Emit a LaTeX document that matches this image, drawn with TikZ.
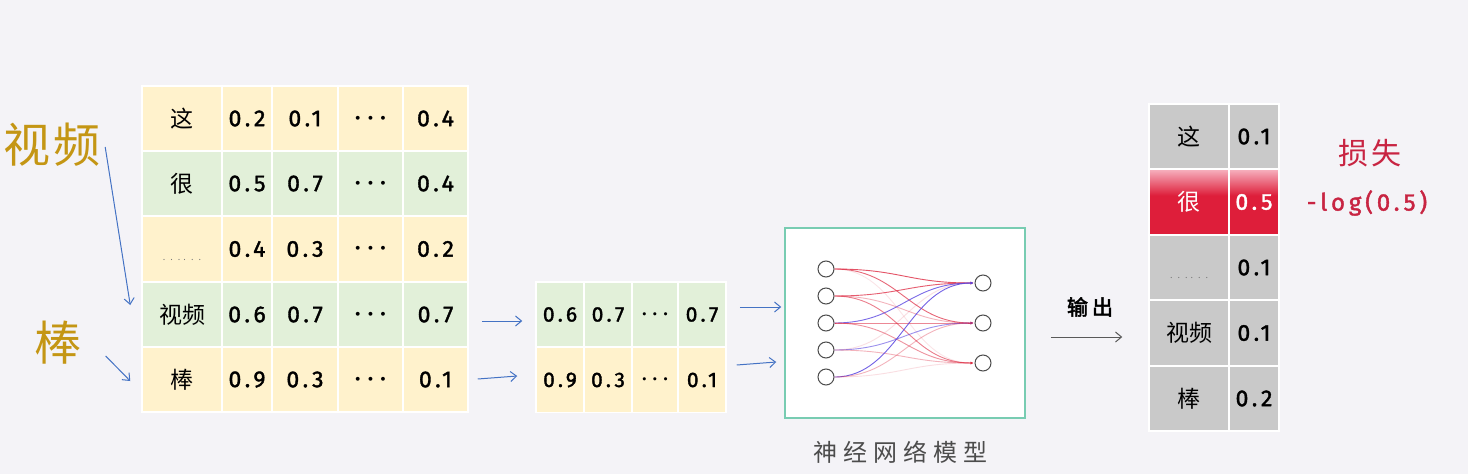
\documentclass[tikz,border=0pt]{standalone}
\usepackage{fontspec}
\usepackage{tikz}
\usetikzlibrary{arrows.meta,positioning}

\newfontfamily\cjk{Noto Sans CJK SC}
\newfontfamily\cjkbold[FakeBold=2.5]{Noto Sans CJK SC}
\newfontfamily\numfont[LetterSpace=16,FakeBold=1.6]{Fira Sans}

\definecolor{bgcol}{RGB}{244,243,247}
\definecolor{cellY}{RGB}{255,242,204}
\definecolor{cellG}{RGB}{226,240,217}
\definecolor{cellgray}{RGB}{201,201,201}
\definecolor{gold}{RGB}{196,150,20}
\definecolor{arrblue}{RGB}{68,114,196}
\definecolor{lossred}{RGB}{200,36,66}
\definecolor{nnframe}{RGB}{120,204,178}
\definecolor{nnred}{RGB}{222,40,64}
\definecolor{nnblue}{RGB}{90,70,225}
\definecolor{hotdeep}{RGB}{222,30,58}
\definecolor{hotpink}{RGB}{246,176,190}

\pgfdeclareverticalshading{hotshade}{100bp}{color(0bp)=(hotdeep); color(25bp)=(hotdeep); color(55bp)=(hotdeep); color(75bp)=(hotpink); color(100bp)=(hotpink)}

\newcommand{\dotrow}{\raisebox{-11pt}[0pt][0pt]{\color{black!55}\fontsize{9}{9}\selectfont .\hspace{5pt}.\hspace{5pt}.\hspace{3pt}.\hspace{5pt}.\hspace{5pt}.}}
\newcommand{\hdots}{{\boldmath$\cdots$}}

\tikzset{
	cell/.style={draw=white, line width=1.5pt, inner sep=0pt, minimum height=65pt},
	wordcell/.style={cell, minimum width=80pt, font=\cjk\fontsize{23}{23}\selectfont},
	numcell/.style={cell, font=\numfont\fontsize{23}{23}\selectfont},
	hot/.style={shading=hotshade, text=white},
	arr/.style={arrblue, line width=1pt, -{Straight Barb[length=6pt,width=10pt]}},
	neuron/.style={circle, draw=black!70, line width=1pt, minimum size=16pt, inner sep=0pt},
	link/.style={line width=0.9pt, -{Latex[length=3pt,width=3pt]}}
}

\begin{document}
\begin{tikzpicture}[x=1pt,y=-1pt]
	\useasboundingbox (0,0) rectangle (1468,474);
	\fill [bgcol] (0,0) rectangle (1468,474);

	\node [gold, inner sep=0pt, font=\cjk\fontsize{47}{47}\selectfont] (sp) at (52,145) {视\hspace{4pt}频};
	\node [gold, inner sep=0pt, font=\cjk\fontsize{47}{47}\selectfont] (bang) at (58,343) {棒};

	\foreach \y/\f/\w/\a/\b/\d [count=\r] in {118.5/cellY/这/0.2/0.1/0.4, 183.5/cellG/很/0.5/0.7/0.4, 249/cellY/\dotrow/0.4/0.3/0.2, 314.5/cellG/视频/0.6/0.7/0.7, 379.5/cellY/棒/0.9/0.3/0.1}{
		\node [wordcell, fill=\f] (w\r) at (182,\y) {\w};
		\node [numcell, fill=\f, minimum width=50pt] (w\r-a) at (247,\y) {\a};
		\node [numcell, fill=\f, minimum width=66pt] (w\r-b) at (305,\y) {\b};
		\node [numcell, fill=\f, minimum width=65pt] (w\r-c) at (370.5,\y) {\hdots};
		\node [numcell, fill=\f, minimum width=65pt] (w\r-d) at (435.5,\y) {\d};
	}

	\foreach \y/\f/\a/\b/\d [count=\r] in {314.5/cellG/0.6/0.7/0.7, 380/cellY/0.9/0.3/0.1}{
		\node [numcell, fill=\f, minimum width=48pt, font=\numfont\fontsize{21}{21}\selectfont] (m\r-a) at (560,\y) {\a};
		\node [numcell, fill=\f, minimum width=48pt, font=\numfont\fontsize{21}{21}\selectfont] (m\r-b) at (608,\y) {\b};
		\node [numcell, fill=\f, minimum width=46pt, font=\numfont\fontsize{21}{21}\selectfont] (m\r-c) at (655,\y) {\hdots};
		\node [numcell, fill=\f, minimum width=48pt, font=\numfont\fontsize{21}{21}\selectfont] (m\r-d) at (702,\y) {\d};
	}

	\draw [arr] ([shift={(4,2)}]sp.east) -- ([shift={(-11,-9.5)}]w4.west);
	\draw [arr] ([shift={(24,13)}]bang.east) -- ([shift={(-11,1.5)}]w5.west);
	\draw [arr] ([shift={(13,6.5)}]w4-d.east) -- ([shift={(-13,6.5)}]m1-a.west);
	\draw [arr] ([shift={(9,-0.5)}]w5-d.east) -- ([shift={(-18,-4)}]m2-a.west);

	\node [draw=nnframe, line width=1.5pt, fill=white, minimum width=240pt, minimum height=190pt] (nn) at (905,323) {};
	\foreach \y [count=\i] in {269,296,323,350,377}
		\node [neuron] (i\i) at (826,\y) {};
	\foreach \y [count=\o] in {283,323,363}
		\node [neuron] (o\o) at (983,\y) {};
	\foreach \a/\b/\c/\p in {1/1/nnred/0.8, 1/2/nnred/0.7, 1/3/nnred/0.12, 2/1/nnred/0.75, 2/2/nnred/0.35, 2/3/nnred/0.6, 3/1/nnblue/0.8, 3/2/nnred/0.85, 3/3/nnred/0.5, 4/1/nnred/0.15, 4/2/nnblue/0.6, 4/3/nnred/0.35, 5/1/nnblue/0.85, 5/2/nnred/0.35, 5/3/nnred/0.15}
		\draw [link, \c, opacity=\p] (i\a.east) .. controls +(65,0) and +(-65,0) .. ([xshift=-1pt]o\b.west);
	\draw [arr] ([shift={(13,-7.5)}]m1-d.east) -- ([shift={(-3,-16)}]nn.west);
	\draw [arr] ([shift={(10,-15)}]m2-d.east) -- ([shift={(-8,39)}]nn.west);
	\node [black!70, inner sep=0pt, font=\cjk\fontsize{24}{24}\selectfont] (cap) at (900,452) {神\hspace{6pt}经\hspace{6pt}网\hspace{6pt}络\hspace{6pt}模\hspace{6pt}型};

	\foreach \r/\y/\w/\p in {1/136.5/这/0.1, 3/267.5/\dotrow/0.1, 4/333/视频/0.1, 5/398.5/棒/0.2}{
		\node [wordcell, fill=cellgray] (t\r) at (1189,\y) {\w};
		\node [numcell, fill=cellgray, minimum width=50pt] (t\r-p) at (1254,\y) {\p};
	}
	\node [wordcell, hot] (t2) at (1189,202) {很};
	\node [numcell, hot, minimum width=50pt] (t2-p) at (1254,202) {0.5};

	\node [inner sep=0pt, font=\cjkbold\fontsize{21}{21}\selectfont] (outlbl) at (1090,307) {输\hspace{4pt}出};
	\draw [black!65, line width=1pt, -{Straight Barb[length=6pt,width=10pt]}] ([shift={(25,14)}]nn.east) -- ([shift={(-26,4)}]t4.west);

	\node [lossred, inner sep=0pt, font=\cjk\fontsize{30}{30}\selectfont] (loss) at (1370,153) {损\hspace{3pt}失};
	\node [lossred, inner sep=0pt, font=\numfont\fontsize{24}{24}\selectfont] (lossval) at (1367,203) {-log(0.5)};
\end{tikzpicture}
\end{document}
